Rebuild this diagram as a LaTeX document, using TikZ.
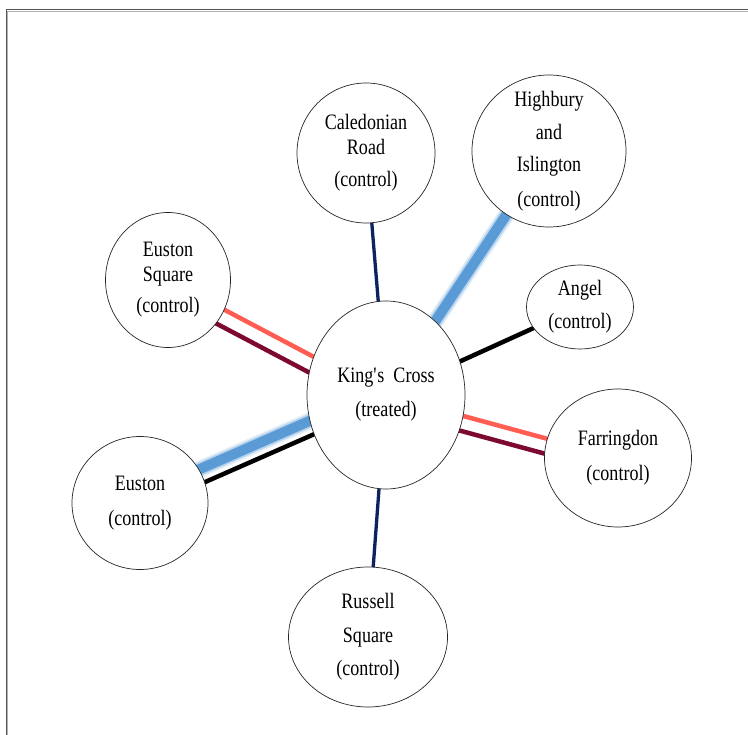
\documentclass[tikz,border=0pt]{standalone}
\usepackage{fontspec}
\setmainfont{Liberation Serif}[FakeStretch=0.82]
\usetikzlibrary{shapes.geometric,calc}
\pgfdeclarelayer{background}
\pgfsetlayers{background,main}
\definecolor{navyline}{RGB}{12,35,95}
\definecolor{vicblue}{RGB}{91,155,213}
\definecolor{hcpink}{RGB}{255,92,82}
\definecolor{metmaroon}{RGB}{125,8,50}
\definecolor{framegray}{RGB}{85,85,85}
\begin{document}
\begin{tikzpicture}[x=1pt,y=-1pt,
  station/.style 2 args={ellipse, draw=black!85, line width=0.7pt, fill=white,
    inner sep=0pt, minimum width=#1, minimum height=#2},
  lbl/.style={align=center, inner sep=0pt, font=\fontsize{22}{24}\selectfont},
  piccadilly/.style={draw=navyline, line width=3.3pt},
  northern/.style={draw=black, line width=4.5pt},
  hammersmith/.style={draw=hcpink, line width=4.5pt},
  metropolitan/.style={draw=metmaroon, line width=4.5pt},
  victoria/.style={draw=vicblue, line width=10pt,
    preaction={draw=vicblue!60, line width=17pt, draw opacity=0.25},
    preaction={draw=vicblue!80, line width=13.5pt, draw opacity=0.45}},
  frameline/.style={draw=framegray, line width=1pt},
  framelight/.style={draw=black!30, line width=0.6pt}
]
\useasboundingbox (0,0) rectangle (748,735);
% frame
\coordinate (fbl) at (6,735);
\coordinate (ftl) at (6,9.5);
\coordinate (ftr) at (748,9.5);
\draw[frameline] (fbl) -- (ftl) -- (ftr);
\coordinate (gbl) at (7.4,735);
\coordinate (gtl) at (7.4,10.9);
\coordinate (gtr) at (748,10.9);
\draw[framelight] (gbl) -- (gtl) -- (gtr);

% stations
\node[station={138pt}{140pt}, label={[lbl]center:{Caledonian\\[1pt]Road\\[8pt](control)}}] (cal) at (366,153) {};
\node[station={154pt}{152pt}, label={[lbl]center:{Highbury\\[9pt]and\\[8pt]Islington\\[11pt](control)}}] (hib) at (549,151) {};
\node[station={125pt}{135pt}, label={[lbl]center:{Euston\\[1pt]Square\\[7pt](control)}}] (es) at (168,280) {};
\node[station={107pt}{84pt}, label={[lbl]center:{Angel\\[9pt](control)}}] (ang) at (580,307) {};
\node[station={158pt}{188pt}, label={[lbl]center:{King\textquotesingle s\ \ Cross\\[10pt](treated)}}] (kc) at (386,395) {};
\node[station={147pt}{138pt}, label={[lbl]center:{Farringdon\\[11pt](control)}}] (far) at (618,458) {};
\node[station={136pt}{133pt}, label={[lbl]center:{Euston\\[11pt](control)}}] (eus) at (140,503) {};
\node[station={159pt}{140pt}, label={[lbl]center:{Russell\\[10pt]Square\\[9pt](control)}}] (rus) at (368,637) {};

% connectors (under the white-filled stations)
\begin{pgfonlayer}{background}
\draw[piccadilly] (cal.center) -- (kc.center);
\draw[piccadilly] (kc.center) -- (rus.center);
\draw[victoria] (hib.center) -- (kc.center);
\draw[northern] (ang.center) -- (kc.center);
% Euston Square: H&C on the axis, Metropolitan below
\draw[hammersmith] (es.center) -- (kc.center);
\draw[metropolitan] ([shift={(-7.5,14.1)}]es.center) -- ([shift={(-7.5,14.1)}]kc.center);
% Farringdon
\draw[hammersmith] (kc.center) -- (far.center);
\draw[metropolitan] ([shift={(-3.9,14.5)}]kc.center) -- ([shift={(-3.9,14.5)}]far.center);
% Euston: Victoria above, Northern below
\draw[victoria] ([shift={(-2.8,-6.4)}]eus.center) -- ([shift={(-2.8,-6.4)}]kc.center);
\draw[northern] ([shift={(2.8,6.4)}]eus.center) -- ([shift={(2.8,6.4)}]kc.center);
\end{pgfonlayer}
\end{tikzpicture}
\end{document}
